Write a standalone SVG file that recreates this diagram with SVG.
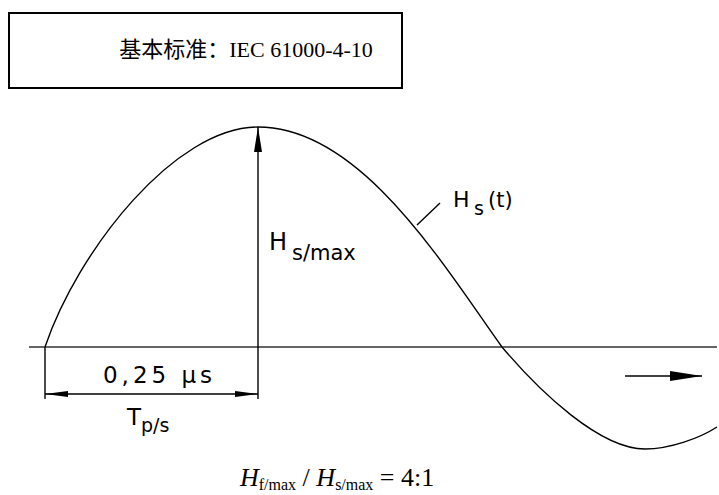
<svg xmlns="http://www.w3.org/2000/svg" width="719" height="495" viewBox="0 0 719 495">
  <style>
    .ln { fill: none; stroke: #000; stroke-width: 1.4; }
    .axis { fill: none; stroke: #333; stroke-width: 1.6; }
    .cad { font-family: "DejaVu Sans", "Liberation Sans", sans-serif; fill: #000; }
    .serif { font-family: "Liberation Serif", "Noto Sans CJK SC", serif; fill: #000; }
  </style>
  <defs>
    <marker id="dimArrow" viewBox="0 0 23 6" refX="23" refY="3" markerWidth="23" markerHeight="6" markerUnits="userSpaceOnUse" orient="auto-start-reverse">
      <path d="M0,0 L23,3 L0,6 z" fill="#000"/>
    </marker>
    <marker id="vArrow" viewBox="0 0 25 8" refX="25" refY="4" markerWidth="25" markerHeight="8" markerUnits="userSpaceOnUse" orient="auto">
      <path d="M0,0 L25,4 L0,8 z" fill="#000"/>
    </marker>
    <marker id="tArrow" viewBox="0 0 32 10" refX="32" refY="5" markerWidth="32" markerHeight="10" markerUnits="userSpaceOnUse" orient="auto">
      <path d="M0,0 L32,5 L0,10 z" fill="#000"/>
    </marker>
  </defs>

  <g id="title-box">
    <rect x="9" y="13" width="393" height="75" fill="#fff" stroke="#000" stroke-width="2"/>
    <text class="serif" x="246" y="57" font-size="22" text-anchor="middle">基本标准：IEC 61000-4-10</text>
  </g>

  <g id="axis">
    <line class="axis" x1="29" y1="347" x2="717" y2="347"/>
  </g>

  <g id="waveform">
    <path class="ln" d="M45,347 C78,250 175,127 258,127 C360,127 442,263 502,347 C540,392 600,449 645,449 C670,449 700,438 717,427"/>
  </g>

  <g id="connectors">
    <line class="ln" x1="258" y1="399" x2="258" y2="127" marker-end="url(#vArrow)"/>
    <line class="ln" x1="45" y1="347" x2="45" y2="399"/>
    <line class="ln" x1="45" y1="394" x2="258" y2="394" marker-start="url(#dimArrow)" marker-end="url(#dimArrow)"/>
    <line class="ln" x1="417" y1="225" x2="440" y2="203"/>
    <line class="ln" x1="625" y1="376" x2="702" y2="376" marker-end="url(#tArrow)"/>
  </g>

  <g id="label-dim">
    <text class="cad" x="103" y="383" font-size="23" textLength="109" lengthAdjust="spacing">0,25  μs</text>
  </g>
  <g id="label-tps">
    <text class="cad" x="127" y="425" font-size="23">T</text>
    <text class="cad" x="141" y="432" font-size="19">p/s</text>
  </g>
  <g id="label-hsmax">
    <text class="cad" x="269" y="250" font-size="24">H</text>
    <text class="cad" x="292" y="260" font-size="21">s/max</text>
  </g>
  <g id="label-hst">
    <text class="cad" x="453" y="207" font-size="22">H</text>
    <text class="cad" x="474" y="215" font-size="19">s</text>
    <text class="cad" x="488" y="207" font-size="21">(t)</text>
  </g>
  <g id="formula">
    <text class="serif" x="240" y="486" font-size="26"><tspan font-style="italic">H</tspan><tspan font-size="16" dy="4">f/max</tspan><tspan dy="-4"> / </tspan><tspan font-style="italic">H</tspan><tspan font-size="16" dy="4">s/max</tspan><tspan dy="-4"> = 4:1</tspan></text>
  </g>
</svg>
